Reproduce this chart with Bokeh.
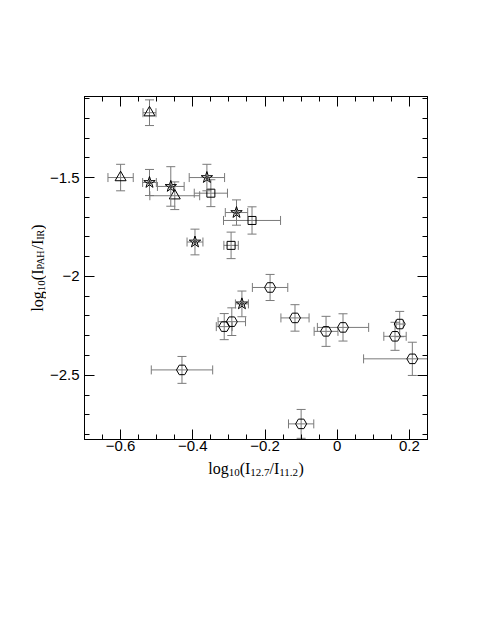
import numpy as np
from bokeh.plotting import figure
from bokeh.layouts import row, column
from bokeh.models import FixedTicker, LinearAxis, Range1d
from bokeh.core.properties import value
from bokeh.embed import file_html
from bokeh.resources import INLINE

# ---------------- data ----------------
tri_x = [-0.520, -0.600, -0.450]
tri_y = [-1.172, -1.500, -1.592]
tri_xerr = [0.018, 0.035, 0.069]
tri_yerr = [0.065, 0.067, 0.070]

star_x = [-0.520, -0.461, -0.361, -0.279, -0.394, -0.264]
star_y = [-1.525, -1.545, -1.500, -1.677, -1.826, -2.139]
star_xerr = [0.019, 0.037, 0.049, 0.031, 0.022, 0.018]
star_yerr = [0.066, 0.100, 0.067, 0.064, 0.065, 0.065]

sq_x = [-0.350, -0.236, -0.294]
sq_y = [-1.579, -1.717, -1.843]
sq_xerr = [0.046, 0.079, 0.020]
sq_yerr = [0.068, 0.069, 0.067]

hex_x = [-0.430, -0.313, -0.292, -0.186, -0.117, -0.031, 0.016, 0.173, 0.160, 0.208, -0.100]
hex_y = [-2.473, -2.254, -2.229, -2.056, -2.210, -2.278, -2.258, -2.241, -2.303, -2.417, -2.746]
hex_xerr = [0.085, 0.022, 0.038, 0.049, 0.039, 0.033, 0.071, 0.010, 0.031, 0.135, 0.035]
hex_yerr = [0.068, 0.066, 0.070, 0.066, 0.067, 0.076, 0.069, 0.064, 0.071, 0.084, 0.073]

x_ticks = [-0.6, -0.4, -0.2, 0.0, 0.2]
x_tick_labels = ["\u22120.6", "\u22120.4", "\u22120.2", "0", "0.2"]
y_ticks = [-2.5, -2.0, -1.5]
y_tick_labels = ["\u22122.5", "\u22122", "\u22121.5"]

# axis-label pieces: (text, font size px, subscript drop px)
xlabel_parts = [("log", 16, 0), ("10", 11, 4), ("(", 16, 0), ("I", 16, 0), ("12.7", 11, 4),
                ("/", 16, 0), ("I", 16, 0), ("11.2", 11, 4), (")", 16, 0)]
ylabel_parts = [("log", 16, 0), ("10", 11, 4), ("(", 16, 0), ("I", 16, 0), ("PAH", 10, 3),
                ("/", 16, 0), ("I", 16, 0), ("IR", 10, 3), (")", 16, 0)]

# ---------------- layout geometry (page px) ----------------
X0, X1 = -0.70, 0.25
Y0, Y1 = -2.825, -1.09
YL_W = 46                  # width of the y-label strip
FRAME_L, FRAME_T = 83, 96  # frame position on page
FW, FH = 344, 343
PW = 464 - YL_W            # main figure width
HP = 457                   # main figure height
XL_H = 40                  # x-label strip height
XS = FW / (X1 - X0)        # px per x unit
YS = FH / (Y1 - Y0)        # px per y unit

xr = Range1d(X0, X1)
yr = Range1d(Y0, Y1)

p = figure(width=PW, height=HP, x_range=xr, y_range=yr,
           output_backend="svg", toolbar_location=None,
           min_border_left=FRAME_L - YL_W, min_border_right=PW - (FRAME_L - YL_W) - FW,
           min_border_top=FRAME_T, min_border_bottom=HP - FRAME_T - FH)
p.xgrid.visible = False
p.ygrid.visible = False
p.outline_line_color = "black"

p.add_layout(LinearAxis(), "above")
p.add_layout(LinearAxis(), "right")

x_minor = list(np.round(np.arange(-0.70, 0.2501, 0.05), 3))
y_minor = list(np.round(np.arange(-2.8, -1.09, 0.1), 3))

for ax in p.xaxis:
    ax.ticker = FixedTicker(ticks=x_ticks, minor_ticks=x_minor)
    ax.major_label_overrides = {t: l for t, l in zip(x_ticks, x_tick_labels)}
for ax in p.yaxis:
    ax.ticker = FixedTicker(ticks=y_ticks, minor_ticks=y_minor)
    ax.major_label_overrides = {t: l for t, l in zip(y_ticks, y_tick_labels)}

for ax in list(p.xaxis) + list(p.yaxis):
    ax.major_tick_in = 10
    ax.major_tick_out = 0
    ax.minor_tick_in = 5
    ax.minor_tick_out = 0
    ax.axis_line_color = "black"
    ax.major_tick_line_color = "black"
    ax.minor_tick_line_color = "black"
    ax.major_label_text_font = "Liberation Sans"
    ax.major_label_text_font_size = "15px"
    ax.major_label_text_color = "black"
    ax.axis_label = None

p.below[0].major_label_standoff = 1
p.left[0].major_label_standoff = 5
for ax in (p.above[0], p.right[0]):
    ax.major_label_text_color = None
    ax.major_label_text_font_size = "1px"

# ---------------- error bars + markers ----------------
ERR = "#7a7a7a"
series = [
    (tri_x, tri_y, tri_xerr, tri_yerr, "triangle", 11),
    (sq_x, sq_y, sq_xerr, sq_yerr, "square", 8),
    (hex_x, hex_y, hex_xerr, hex_yerr, "hex", 11),
    (star_x, star_y, star_xerr, star_yerr, "star", 12),
]
for xs, ys, xe, ye, mk, sz in series:
    xs = np.array(xs); ys = np.array(ys); xe = np.array(xe); ye = np.array(ye)
    p.segment(x0=xs - xe, y0=ys, x1=xs + xe, y1=ys, line_color=ERR, line_width=1)
    p.segment(x0=xs, y0=ys - ye, x1=xs, y1=ys + ye, line_color=ERR, line_width=1)
    p.scatter(np.concatenate([xs, xs]), np.concatenate([ys - ye, ys + ye]), marker="dash",
              size=9, angle=0, line_color=ERR, line_width=1)
    p.scatter(np.concatenate([xs - xe, xs + xe]), np.concatenate([ys, ys]), marker="dash",
              size=9, angle=np.pi / 2, line_color=ERR, line_width=1)
    p.scatter(xs, ys, marker=mk, size=sz, fill_color=None, line_color="black", line_width=1)
    if mk == "star":
        p.scatter(xs, ys, marker="star", size=4, fill_color=None, line_color="black", line_width=0.6)

# ---------------- axis labels with subscripts (separate strips) ----------------
SERIF_W = {'l': 278, 'o': 500, 'g': 500, '(': 333, ')': 333, 'I': 333, '/': 278,
           '.': 250, 'P': 556, 'A': 722, 'H': 722, 'R': 667}

def tw(s, size):
    return sum(SERIF_W.get(c, 500) for c in s) / 1000.0 * size

def add_text(f, x, y, t, s, ang):
    f.text(x=[x], y=[y], text=[t], angle=ang, text_font=value("Liberation Serif"),
           text_font_size=value(f"{s}px"), text_color="black",
           text_align="left", text_baseline="alphabetic")

# x label: shares x range with the plot (frames are aligned in the column)
xlab_fig = figure(width=PW, height=XL_H, x_range=xr, y_range=Range1d(HP + XL_H, HP),
                  output_backend="svg", toolbar_location=None,
                  x_axis_type=None, y_axis_type=None, min_border=0)
xlab_fig.outline_line_color = None
total = sum(tw(t, s) for t, s, d in xlabel_parts)
pos = FRAME_L + FW / 2.0 - total / 2.0
for t, s, d in xlabel_parts:
    add_text(xlab_fig, X0 + (pos - FRAME_L) / XS, 468 + d, t, s, 0.0)
    pos += tw(t, s)

# y label: same height and vertical borders as the plot, sharing its y range
ylab_fig = figure(width=YL_W, height=HP, x_range=Range1d(0, YL_W), y_range=yr,
                  output_backend="svg", toolbar_location=None,
                  x_axis_type=None, y_axis_type=None,
                  min_border_left=0, min_border_right=0,
                  min_border_top=FRAME_T, min_border_bottom=HP - FRAME_T - FH)
ylab_fig.outline_line_color = None
total = sum(tw(t, s) for t, s, d in ylabel_parts)
pos = FRAME_T + FH / 2.0 + total / 2.0
for t, s, d in ylabel_parts:
    add_text(ylab_fig, 37 + d, Y1 - (pos - FRAME_T) / YS, t, s, np.pi / 2)
    pos -= tw(t, s)

layout = row(ylab_fig, column(p, xlab_fig, spacing=0), spacing=0)

open("out.html", "w").write(file_html(layout, INLINE))
